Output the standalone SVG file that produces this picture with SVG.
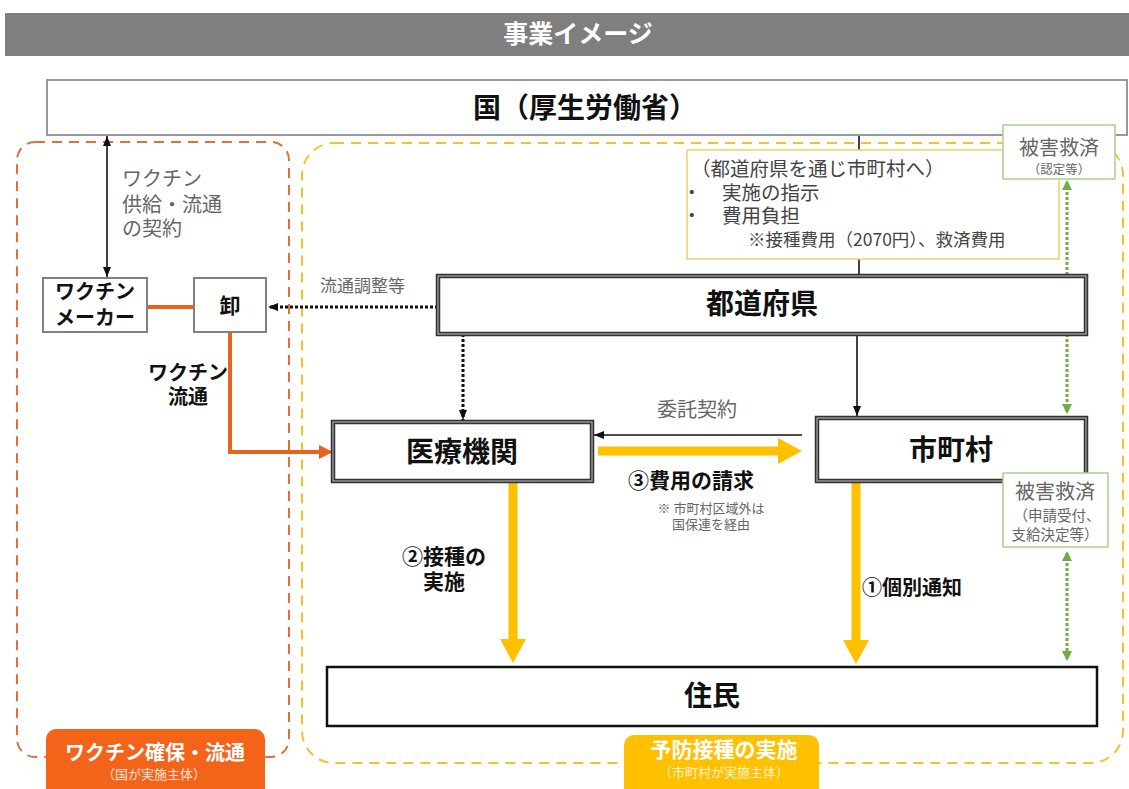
<svg xmlns="http://www.w3.org/2000/svg" width="1129" height="789" viewBox="0 0 1129 789">
<style>
text{font-family:"Noto Sans CJK JP","Noto Sans",sans-serif}
.b{font-weight:bold;fill:#111}
.g{fill:#666}
.n{fill:#444}
.c{text-anchor:middle}
.box{fill:#fff;stroke:#808080;stroke-width:2}
.dbl{fill:#fff;stroke:#333;stroke-width:4.5}
.dbli{fill:none;stroke:#aaa;stroke-width:1.2}
.grn{fill:#fff;stroke:#A9D18E;stroke-width:1.5}
.blk{stroke:#111;stroke-width:1.6;fill:none}
.dot{stroke:#111;stroke-width:3;stroke-dasharray:3 2;fill:none}
.gdot{stroke:#70AD47;stroke-width:3;stroke-dasharray:3 2;fill:none}
.ylw{stroke:#FFC000;stroke-width:9;fill:none}
.org{stroke:#E8641E;stroke-width:4;fill:none}
</style>
<defs>
<marker id="ab" viewBox="0 0 10 10" refX="10" refY="5" markerWidth="10" markerHeight="10" markerUnits="userSpaceOnUse" orient="auto-start-reverse"><path d="M0,1 L10,5 L0,9 z" fill="#111"/></marker>
<marker id="ag" viewBox="0 0 10 10" refX="8" refY="5" markerWidth="10" markerHeight="10" markerUnits="userSpaceOnUse" orient="auto-start-reverse"><path d="M0,0 L10,5 L0,10 z" fill="#70AD47"/></marker>
<marker id="ay" viewBox="0 0 24 26" refX="0" refY="13" markerWidth="24" markerHeight="26" markerUnits="userSpaceOnUse" orient="auto"><path d="M0,0 L24,13 L0,26 z" fill="#FFC000"/></marker>
<marker id="ao" viewBox="0 0 14 14" refX="0" refY="7" markerWidth="14" markerHeight="14" markerUnits="userSpaceOnUse" orient="auto"><path d="M0,0 L14,7 L0,14 z" fill="#E8641E"/></marker>
</defs>
<rect width="1129" height="789" fill="#fff"/>

<g id="title">
<rect x="5" y="13" width="1124" height="43" fill="#7f7f7f"/>
<text x="578" y="43" class="c" font-size="25" font-weight="bold" fill="#fff">事業イメージ</text>
</g>

<g id="regions">
<rect x="17" y="142" width="272" height="615" rx="18" fill="none" stroke="#E0703A" stroke-width="2" stroke-dasharray="10 7"/>
<rect x="302" y="143" width="821" height="620" rx="32" fill="none" stroke="#F2C12E" stroke-width="2" stroke-dasharray="10 7"/>
</g>

<g id="connectors">
<line x1="107" y1="136" x2="107" y2="277" class="blk" marker-start="url(#ab)" marker-end="url(#ab)"/>
<line x1="147" y1="307" x2="194" y2="307" class="org"/>
<path d="M230,332 V452 H319" class="org" marker-end="url(#ao)"/>
<line x1="438" y1="307" x2="268" y2="307" class="dot" marker-end="url(#ab)"/>
<line x1="463" y1="334" x2="463" y2="420" class="dot" marker-end="url(#ab)"/>
<line x1="859" y1="135" x2="859" y2="276" class="blk"/>
<line x1="857" y1="334" x2="857" y2="416" class="blk" marker-end="url(#ab)"/>
<line x1="1067" y1="182" x2="1067" y2="275" class="gdot" marker-start="url(#ag)"/>
<line x1="1067" y1="334" x2="1067" y2="412" class="gdot" marker-end="url(#ag)"/>
<line x1="1067" y1="553" x2="1067" y2="659" class="gdot" marker-start="url(#ag)" marker-end="url(#ag)"/>
<line x1="802" y1="435" x2="594" y2="435" class="blk" marker-end="url(#ab)"/>
<line x1="598" y1="451" x2="778" y2="451" class="ylw" marker-end="url(#ay)"/>
<line x1="513" y1="481" x2="513" y2="639" class="ylw" marker-end="url(#ay)"/>
<line x1="856" y1="482" x2="856" y2="640" class="ylw" marker-end="url(#ay)"/>
<text x="122" y="186" font-size="20" class="g">ワクチン</text>
<text x="122" y="212" font-size="20" class="g">供給・流通</text>
<text x="122" y="236" font-size="20" class="g">の契約</text>
<text x="188" y="380" font-size="20" class="b c">ワクチン</text>
<text x="188" y="404" font-size="20" class="b c">流通</text>
<text x="320" y="292" font-size="17" class="g">流通調整等</text>
<text x="697" y="417" font-size="20" class="g c">委託契約</text>
<text x="691" y="488" font-size="21" class="b c">③費用の請求</text>
<text x="711" y="513" font-size="13" class="g c">※ 市町村区域外は</text>
<text x="711" y="529" font-size="13" class="g c">国保連を経由</text>
<text x="444" y="564" font-size="21" class="b c">②接種の</text>
<text x="444" y="589" font-size="21" class="b c">実施</text>
<text x="862" y="595" font-size="20" class="b">①個別通知</text>
</g>

<g id="kuni">
<rect x="47" y="80" width="1080" height="55" fill="#fff" stroke="#999" stroke-width="2"/>
<text x="585" y="118" font-size="28" class="b c">国（厚生労働省）</text>
</g>

<g id="maker">
<rect x="43" y="278" width="104" height="54" class="box"/>
<text x="95" y="299" font-size="20" class="b c">ワクチン</text>
<text x="95" y="325" font-size="20" class="b c">メーカー</text>
</g>

<g id="oroshi">
<rect x="194" y="278" width="72" height="54" class="box"/>
<text x="230" y="313" font-size="21" class="b c">卸</text>
</g>

<g id="note">
<rect x="687" y="150" width="372" height="109" fill="#fff" stroke="#E8D46A" stroke-width="1.5"/>
<text x="691" y="176" font-size="19.5" class="n">（都道府県を通じ市町村へ）</text>
<text y="200" font-size="19.5" class="n"><tspan x="682">・</tspan><tspan x="722">実施の指示</tspan></text>
<text y="223" font-size="19.5" class="n"><tspan x="682">・</tspan><tspan x="722">費用負担</tspan></text>
<text x="748" y="246" font-size="17.5" class="n">※接種費用（2070円）、救済費用</text>
</g>

<g id="todofuken">
<rect x="438" y="276" width="648" height="58" class="dbl"/>
<rect x="438" y="276" width="648" height="58" class="dbli"/>
<text x="762" y="314" font-size="28" class="b c">都道府県</text>
</g>

<g id="iryokikan">
<rect x="333" y="422" width="259" height="59" class="dbl"/>
<rect x="333" y="422" width="259" height="59" class="dbli"/>
<text x="462" y="462" font-size="28" class="b c">医療機関</text>
</g>

<g id="shichoson">
<rect x="817" y="418" width="269" height="63" class="dbl"/>
<rect x="817" y="418" width="269" height="63" class="dbli"/>
<text x="951" y="460" font-size="28" class="b c">市町村</text>
</g>

<g id="higai1">
<rect x="1003" y="125" width="112" height="54" class="grn"/>
<text x="1059" y="155" font-size="20" class="g c">被害救済</text>
<text x="1059" y="174" font-size="12.5" class="g c">（認定等）</text>
</g>

<g id="higai2">
<rect x="1003" y="473" width="105" height="74" class="grn"/>
<text x="1055" y="499" font-size="20" class="g c">被害救済</text>
<text x="1057" y="521" font-size="14.5" class="g c">（申請受付、</text>
<text x="1055" y="540" font-size="14.5" class="g c">支給決定等）</text>
</g>

<g id="jumin">
<rect x="327" y="667" width="770" height="59" fill="#fff" stroke="#111" stroke-width="2.5"/>
<text x="712" y="706" font-size="28" class="b c">住民</text>
</g>

<g id="label-vaccine">
<rect x="46" y="729" width="219" height="80" rx="10" fill="#F4631A"/>
<text x="155" y="760" font-size="20" font-weight="bold" fill="#fff" class="c">ワクチン確保・流通</text>
<text x="154" y="779" font-size="13" fill="#FDE3D6" class="c">（国が実施主体）</text>
</g>

<g id="label-yobo">
<rect x="624" y="735" width="195" height="74" rx="10" fill="#FFC000"/>
<text x="724" y="757" font-size="21" font-weight="bold" fill="#fff" class="c">予防接種の実施</text>
<text x="724" y="777" font-size="13" fill="#FFF2CC" class="c">（市町村が実施主体）</text>
</g>
</svg>
